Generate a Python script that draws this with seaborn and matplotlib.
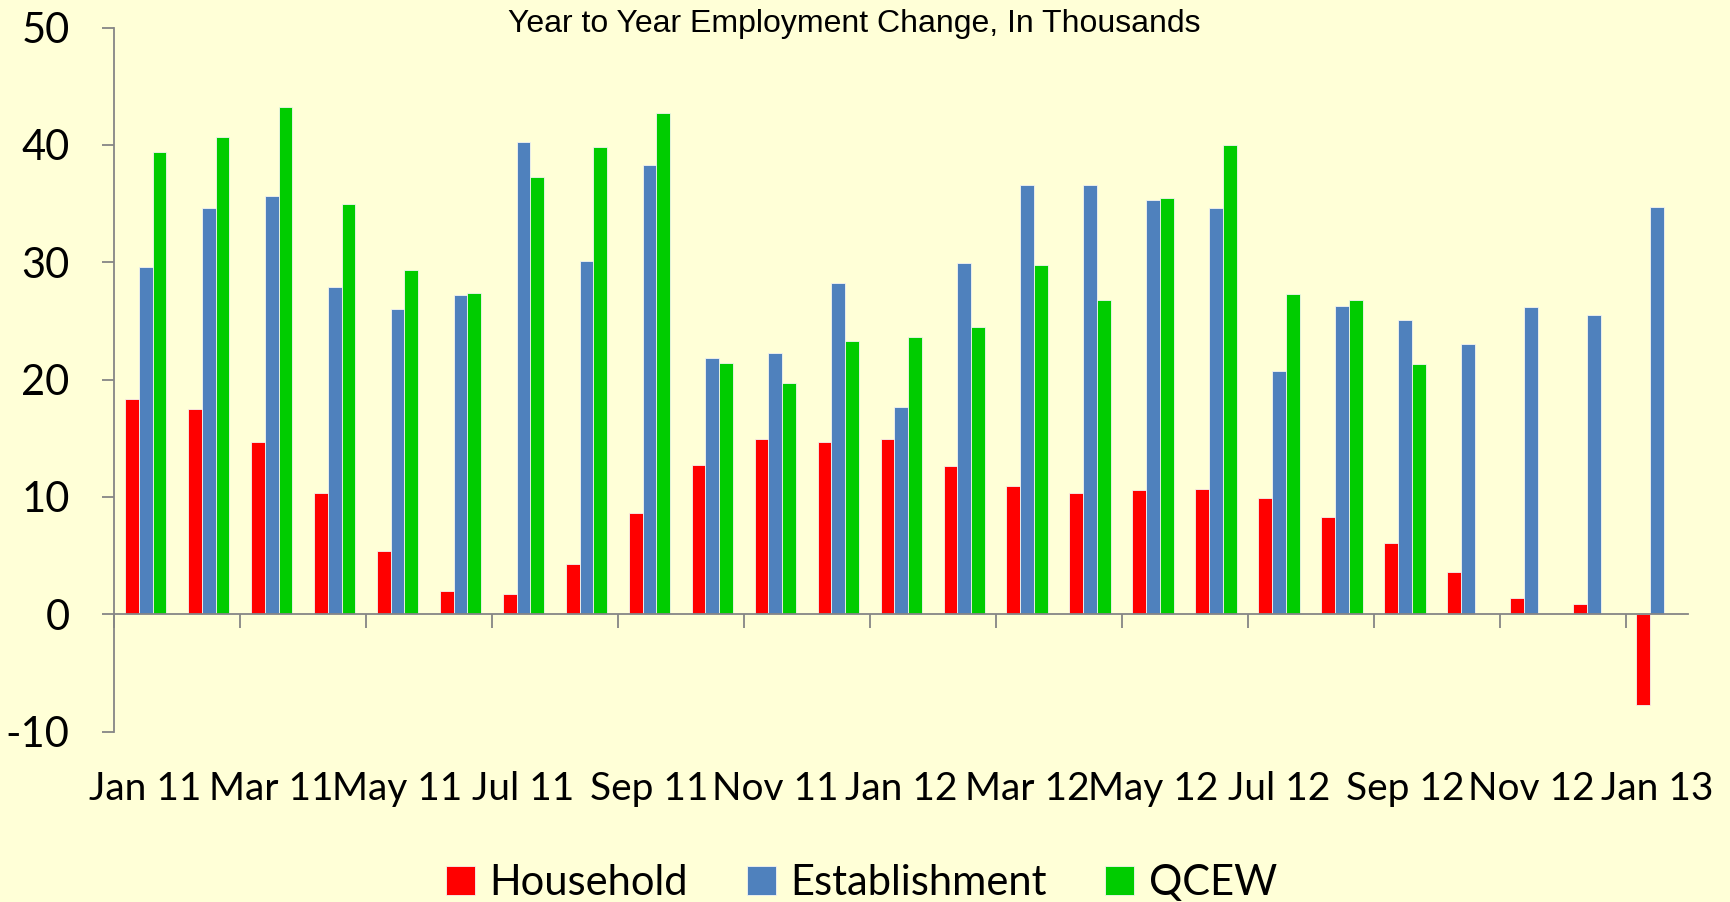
import numpy as np
import pandas as pd
import matplotlib
matplotlib.use("Agg")
import matplotlib.pyplot as plt
import seaborn as sns

# data (thousands)
months = ["Jan 11", "Feb 11", "Mar 11", "Apr 11", "May 11", "Jun 11", "Jul 11",
          "Aug 11", "Sep 11", "Oct 11", "Nov 11", "Dec 11", "Jan 12", "Feb 12",
          "Mar 12", "Apr 12", "May 12", "Jun 12", "Jul 12", "Aug 12", "Sep 12",
          "Oct 12", "Nov 12", "Dec 12", "Jan 13"]
household = [18.3, 17.5, 14.7, 10.3, 5.4, 2.0, 1.7, 4.3, 8.6, 12.7, 14.9, 14.7,
             14.9, 12.6, 10.9, 10.3, 10.6, 10.7, 9.9, 8.3, 6.1, 3.6, 1.4, 0.9, -7.7]
establishment = [29.6, 34.6, 35.6, 27.9, 26.0, 27.2, 40.2, 30.1, 38.3, 21.8, 22.3, 28.2,
                 17.7, 29.9, 36.6, 36.6, 35.3, 34.6, 20.7, 26.3, 25.1, 23.0, 26.2, 25.5, 34.7]
qcew = [39.4, 40.7, 43.2, 35.0, 29.3, 27.4, 37.3, 39.8, 42.7, 21.4, 19.7, 23.3,
        23.6, 24.5, 29.8, 26.8, 35.5, 40.0, 27.3, 26.8, 21.3, None, None, None, None]

series_names = ["Household", "Establishment", "QCEW"]
colors = ["#FF0000", "#4F81BD", "#00CC00"]

df = pd.DataFrame({"month": months * 3,
                   "series": np.repeat(series_names, len(months)),
                   "value": household + establishment + qcew})
df["value"] = pd.to_numeric(df["value"])

bg = "#FFFFD7"
grey = "#868686"
tick_font = "Lato"
plt.rcParams["axes.unicode_minus"] = False

fig = plt.figure(figsize=(17.3, 9.02), dpi=100, facecolor=bg)
ax = fig.add_axes([0.066, 0.189, 0.910, 0.7805], facecolor=bg)

sns.barplot(data=df, x="month", y="value", hue="series", order=months,
            hue_order=series_names, palette=colors, saturation=1, width=0.66,
            errorbar=None, edgecolor="#F4F4F0", linewidth=0.6, ax=ax)

ax.set_xlim(-0.5, 24.5)
ax.set_ylim(-10, 50)
ax.set_yticks(range(-10, 51, 10))
ax.set_xlabel("")
ax.set_ylabel("")

for s in ["top", "right"]:
    ax.spines[s].set_visible(False)
ax.spines["left"].set_color(grey)
ax.spines["bottom"].set_color(grey)
ax.spines["left"].set_linewidth(1.3)
ax.spines["bottom"].set_linewidth(1.3)
ax.spines["bottom"].set_position(("data", 0))

# labels on every other month, tick marks on group boundaries
ax.set_xticks(range(0, 25, 2))
ax.set_xticklabels(months[::2])
ax.set_xticks(np.arange(-0.5, 24, 2), minor=True)
ax.tick_params(axis="x", which="major", length=0, pad=113, labelsize=28)
ax.tick_params(axis="x", which="minor", length=10, width=1.3, color=grey, direction="out")
ax.tick_params(axis="y", length=9, width=1.3, color=grey, labelsize=30, pad=23)
for lab in ax.get_xticklabels() + ax.get_yticklabels():
    lab.set_family(tick_font)

fig.text(0.494, 0.973, "Year to Year Employment Change, In Thousands",
         ha="center", va="center", fontsize=23, family="Liberation Sans")

handles, labels = ax.get_legend_handles_labels()
ax.get_legend().remove()
fig.legend(handles, labels, loc="center", bbox_to_anchor=(0.498, 0.021), ncol=3,
           frameon=False, prop={"family": tick_font, "size": 30},
           handlelength=0.7, handleheight=0.7, handletextpad=0.35, columnspacing=1.4)

fig.savefig("out.png", dpi=100, facecolor=bg)
